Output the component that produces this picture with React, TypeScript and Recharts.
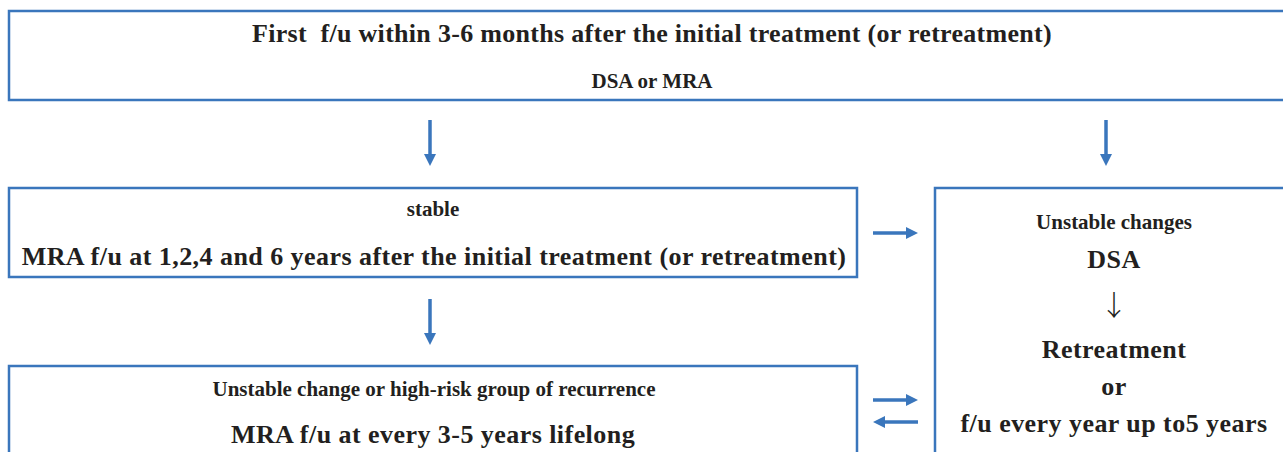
import React from 'react';
import { ComposedChart, XAxis, YAxis, ReferenceArea, ReferenceLine, Scatter } from 'recharts';

const BLUE = '#3a76bc';
const INK = '#231f20';
const W = 1283;
const H = 452;

// chart units are laid out 1:1 with the 1283x452 canvas (y grows downward)
const boxes = [
  { id: 'first', x1: 9, x2: 1300, y1: 11, y2: 100 },
  { id: 'stable', x1: 9, x2: 857, y1: 188, y2: 277 },
  { id: 'unstable', x1: 935, x2: 1300, y1: 188, y2: 480 },
  { id: 'lifelong', x1: 9, x2: 857, y1: 366, y2: 480 },
];

const arrows = [
  { from: [430, 120], to: [430, 166] },
  { from: [1106, 120], to: [1106, 166] },
  { from: [873, 233], to: [918, 233] },
  { from: [430, 299], to: [430, 345] },
  { from: [873, 400], to: [918, 400] },
  { from: [918, 422], to: [873, 422] },
];

const labels = [
  { text: 'First  f/u within 3-6 months after the initial treatment (or retreatment)', x: 652, y: 42, kind: 'head' },
  { text: 'DSA or MRA', x: 652, y: 88, kind: 'small' },
  { text: 'stable', x: 433, y: 216, kind: 'small' },
  { text: 'MRA f/u at 1,2,4 and 6 years after the initial treatment (or retreatment)', x: 434, y: 265, kind: 'big' },
  { text: 'Unstable change or high-risk group of recurrence', x: 434, y: 396, kind: 'small' },
  { text: 'MRA f/u at every 3-5 years lifelong', x: 433, y: 443, kind: 'big' },
  { text: 'Unstable changes', x: 1114, y: 229, kind: 'small' },
  { text: 'DSA', x: 1114, y: 268, kind: 'big' },
  { text: '↓', x: 1114, y: 316, kind: 'glyph' },
  { text: 'Retreatment', x: 1114, y: 358, kind: 'big' },
  { text: 'or', x: 1114, y: 395, kind: 'big' },
  { text: 'f/u every year up to5 years', x: 1114, y: 432, kind: 'big' },
];

const fonts: Record<string, { size: number; weight: number; spacing: number; family: string }> = {
  head: { size: 26, weight: 700, spacing: 0.3, family: '"Liberation Serif", serif' },
  big: { size: 26, weight: 700, spacing: 0.45, family: '"Liberation Serif", serif' },
  small: { size: 21, weight: 700, spacing: 0, family: '"Liberation Serif", serif' },
  glyph: { size: 28, weight: 300, spacing: 0, family: '"Noto Sans CJK JP", sans-serif' },
};

function Arrow(props: any) {
  const x1 = Number(props.x1);
  const y1 = Number(props.y1);
  const x2 = Number(props.x2);
  const y2 = Number(props.y2);
  const len = Math.hypot(x2 - x1, y2 - y1) || 1;
  const ux = (x2 - x1) / len;
  const uy = (y2 - y1) / len;
  const head = 12;
  const half = 6;
  const bx = x2 - ux * head;
  const by = y2 - uy * head;
  return (
    <g>
      <line x1={x1} y1={y1} x2={bx + ux} y2={by + uy} stroke={BLUE} strokeWidth={3.5} />
      <polygon
        points={`${x2},${y2} ${bx - uy * half},${by + ux * half} ${bx + uy * half},${by - ux * half}`}
        fill={BLUE}
      />
    </g>
  );
}

function Label(props: any) {
  const { cx, cy, payload } = props;
  const f = fonts[payload.kind];
  return (
    <text
      x={cx}
      y={cy}
      textAnchor="middle"
      fontFamily={f.family}
      fontSize={f.size}
      fontWeight={f.weight}
      letterSpacing={f.spacing}
      fill={INK}
      style={{ whiteSpace: 'pre' }}
    >
      {payload.text}
    </text>
  );
}

export default function App() {
  return (
    <>
      <style>{'html,body{margin:0;padding:0;overflow:hidden;background:#fff}'}</style>
      <ComposedChart width={W} height={H} margin={{ top: 0, right: 0, bottom: 0, left: 0 }}>
        <XAxis type="number" dataKey="x" domain={[0, W]} allowDataOverflow hide />
        <YAxis type="number" dataKey="y" domain={[0, H]} allowDataOverflow reversed hide />
        {boxes.map((b) => (
          <ReferenceArea
            key={b.id}
            x1={b.x1}
            x2={b.x2}
            y1={b.y1}
            y2={b.y2}
            ifOverflow="hidden"
            fill="none"
            stroke={BLUE}
            strokeWidth={2.5}
          />
        ))}
        {arrows.map((a, i) => (
          <ReferenceLine
            key={i}
            segment={[
              { x: a.from[0], y: a.from[1] },
              { x: a.to[0], y: a.to[1] },
            ]}
            ifOverflow="visible"
            shape={Arrow}
          />
        ))}
        <Scatter data={labels} shape={Label} isAnimationActive={false} />
      </ComposedChart>
    </>
  );
}
